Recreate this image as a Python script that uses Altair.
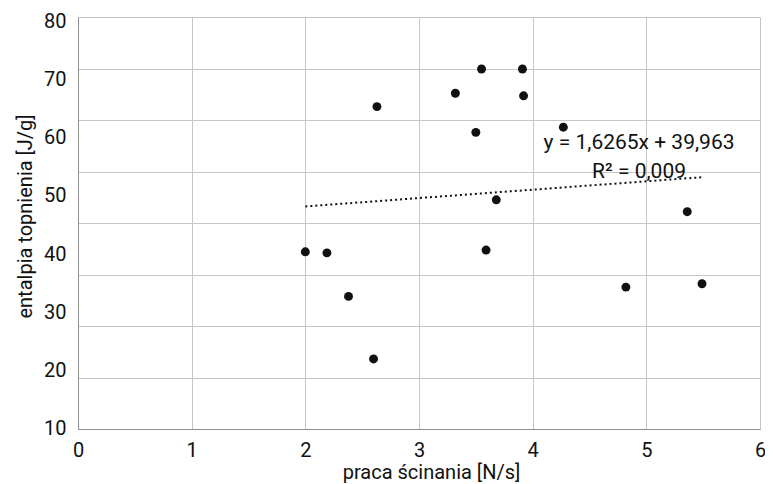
import altair as alt
import pandas as pd

# data
x_vals = [2.00, 2.19, 2.38, 2.60, 3.59, 2.63, 3.32, 3.55, 3.50, 3.68, 3.91, 3.92, 4.27, 5.36, 4.82, 5.49]
y_vals = [34.4, 34.2, 25.75, 13.6, 34.75, 62.6, 65.2, 69.9, 57.6, 44.5, 69.9, 64.7, 58.6, 42.2, 27.55, 28.2]
x_ticks = [0, 1, 2, 3, 4, 5, 6]
y_grid = [0, 10, 20, 30, 40, 50, 60, 70, 80]
y_tick_labels = [10, 20, 30, 40, 50, 60, 70, 80]
slope = 1.6265
intercept = 39.963
eq_text = "y = 1,6265x + 39,963"
r2_text = "R² = 0,009"

points = pd.DataFrame({"x": x_vals, "y": y_vals})
trend = pd.DataFrame({"x": [min(x_vals), max(x_vals)]})
trend["y"] = slope * trend["x"] + intercept
annot = trend.tail(1).assign(label=eq_text + "\n" + r2_text)
labels_df = pd.DataFrame({"v": y_tick_labels})

FONT = "Roboto"
TXT = "#111111"
GRID = "#c6c6c6"
DOMAIN = "#8e8e8e"

x_enc = alt.X(
    "x:Q",
    scale=alt.Scale(domain=[0, 6], nice=False, zero=False),
    axis=alt.Axis(
        values=x_ticks, grid=True, gridColor=GRID, gridWidth=1,
        domainColor=DOMAIN, domainWidth=1, ticks=False,
        labelFont=FONT, labelFontSize=20, labelColor=TXT, labelPadding=11,
        labelFlush=False,
        title="praca ścinania [N/s]", titleFont=FONT, titleFontSize=20,
        titleFontWeight="normal", titleColor=TXT,
        titleX=353, titleY=49, titleAlign="center", titleBaseline="alphabetic",
    ),
)
y_enc = alt.Y(
    "y:Q",
    scale=alt.Scale(domain=[0, 80], nice=False, zero=False),
    axis=alt.Axis(
        values=y_grid, grid=True, gridColor=GRID, gridWidth=1,
        domainColor=DOMAIN, domainWidth=1, ticks=False, labels=False,
        orient="left",
        title="entalpia topnienia [J/g]", titleFont=FONT, titleFontSize=20,
        titleFontWeight="normal", titleColor=TXT,
        titleX=-47, titleY=199, titleAngle=270, titleAlign="center",
        titleBaseline="alphabetic",
    ),
)

pts = alt.Chart(points).mark_circle(size=80, color=TXT, opacity=1).encode(x=x_enc, y=y_enc)
line = alt.Chart(trend).mark_line(color=TXT, strokeDash=[2, 3], strokeWidth=2).encode(x=x_enc, y=y_enc)
txt = alt.Chart(annot).mark_text(
    align="center", baseline="middle", dx=-63, dy=-34,
    font=FONT, fontSize=21, color=TXT, lineBreak="\n", lineHeight=28.7,
).encode(x=x_enc, y=y_enc, text="label:N")

main = alt.layer(line, pts, txt)

lab = alt.Chart(labels_df).mark_point(opacity=0).encode(
    x=alt.value(0),
    y=alt.Y(
        "v:Q",
        scale=alt.Scale(domain=[9.845, 80.846], nice=False, zero=False),
        axis=alt.Axis(
            orient="left", values=y_tick_labels, grid=False, domain=False,
            ticks=False, labelFont=FONT, labelFontSize=20, labelColor=TXT,
            labelPadding=12, title="",
        ),
    ),
)

chart = alt.layer(main, lab).resolve_scale(y="independent").properties(
    width=682, height=412,
    padding={"left": 70, "top": 9, "right": 5, "bottom": 54},
    autosize=alt.AutoSizeParams(type="none"),
).configure_view(strokeWidth=0)

chart.save("out.html", embed_options={"renderer": "svg", "actions": False})
